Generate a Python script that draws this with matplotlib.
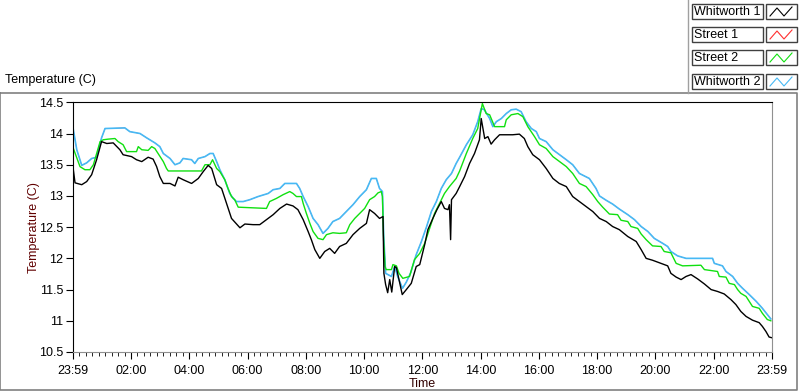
import numpy as np
import matplotlib.pyplot as plt
from matplotlib.patches import Rectangle
from matplotlib.lines import Line2D
from matplotlib.ticker import MultipleLocator, AutoMinorLocator

plt.rcParams['font.family'] = ['Liberation Sans', 'DejaVu Sans']

# (hours since 23:59, temperature C)
whitworth1 = [(0, 13.50), (0.08, 13.21), (0.31, 13.18), (0.48, 13.23), (0.65, 13.34), (0.82, 13.58),
              (0.99, 13.87), (1.17, 13.84), (1.39, 13.85), (1.62, 13.74), (1.73, 13.66), (2.02, 13.63),
              (2.19, 13.58), (2.37, 13.55), (2.59, 13.62), (2.76, 13.59), (2.88, 13.47), (2.99, 13.31),
              (3.11, 13.20), (3.34, 13.20), (3.51, 13.16), (3.62, 13.30), (3.79, 13.26), (4.08, 13.20),
              (4.31, 13.28), (4.48, 13.39), (4.65, 13.49), (4.77, 13.44), (4.94, 13.18), (5.11, 13.12),
              (5.28, 12.88), (5.45, 12.64), (5.74, 12.49), (5.91, 12.55), (6.19, 12.54), (6.42, 12.54),
              (6.65, 12.62), (6.88, 12.70), (7.11, 12.80), (7.34, 12.87), (7.56, 12.84), (7.73, 12.78),
              (7.91, 12.62), (8.08, 12.43), (8.19, 12.30), (8.31, 12.14), (8.48, 12.00), (8.65, 12.11),
              (8.82, 12.16), (8.99, 12.08), (9.16, 12.19), (9.39, 12.24), (9.62, 12.38), (9.85, 12.48),
              (10.08, 12.56), (10.19, 12.78), (10.36, 12.72), (10.53, 12.64), (10.65, 12.67), (10.68, 11.76),
              (10.74, 11.58), (10.81, 11.45), (10.88, 11.66), (10.95, 11.46), (11.05, 11.87), (11.11, 11.85),
              (11.22, 11.61), (11.31, 11.42), (11.45, 11.50), (11.62, 11.60), (11.79, 11.87), (11.91, 11.90),
              (12.08, 12.22), (12.19, 12.46), (12.36, 12.64), (12.50, 12.78), (12.65, 12.91), (12.76, 12.80),
              (12.88, 12.78), (12.93, 12.86), (12.97, 12.30), (13.00, 12.94), (13.16, 13.04), (13.28, 13.15),
              (13.45, 13.31), (13.62, 13.52), (13.79, 13.68), (13.96, 13.90), (14.02, 14.24), (14.14, 13.92),
              (14.25, 13.95), (14.36, 13.83), (14.48, 13.90), (14.65, 13.98), (14.88, 13.98), (15.10, 13.98),
              (15.33, 13.99), (15.50, 13.92), (15.62, 13.79), (15.79, 13.66), (16.02, 13.58), (16.25, 13.44),
              (16.48, 13.28), (16.70, 13.20), (16.94, 13.15), (17.16, 12.99), (17.39, 12.91), (17.62, 12.83),
              (17.85, 12.75), (18.08, 12.64), (18.31, 12.59), (18.53, 12.51), (18.76, 12.46), (19.05, 12.35),
              (19.34, 12.27), (19.51, 12.14), (19.68, 12.00), (19.90, 11.97), (20.13, 11.93), (20.42, 11.88),
              (20.53, 11.76), (20.71, 11.70), (20.88, 11.66), (21.05, 11.71), (21.22, 11.74), (21.45, 11.67),
              (21.68, 11.59), (21.91, 11.50), (22.13, 11.47), (22.36, 11.43), (22.59, 11.34), (22.76, 11.26),
              (22.93, 11.15), (23.11, 11.07), (23.33, 11.01), (23.56, 10.97), (23.67, 10.91), (23.79, 10.83),
              (23.90, 10.74), (23.98, 10.73)]

street2 = [(0, 13.79), (0.25, 13.47), (0.42, 13.42), (0.59, 13.42), (0.71, 13.50), (0.82, 13.68),
           (0.94, 13.87), (1.05, 13.90), (1.22, 13.91), (1.45, 13.92), (1.56, 13.87), (1.73, 13.82),
           (1.85, 13.71), (2.19, 13.71), (2.25, 13.79), (2.37, 13.74), (2.59, 13.73), (2.71, 13.79),
           (2.82, 13.76), (2.93, 13.68), (3.11, 13.55), (3.22, 13.44), (3.28, 13.40), (4.42, 13.40),
           (4.54, 13.50), (4.71, 13.50), (4.80, 13.58), (4.94, 13.44), (5.05, 13.39), (5.22, 13.26),
           (5.33, 13.12), (5.45, 12.99), (5.56, 12.94), (5.68, 12.82), (6.65, 12.80), (6.76, 12.91),
           (6.99, 12.96), (7.22, 13.02), (7.45, 13.07), (7.56, 13.04), (7.68, 12.99), (7.85, 12.99),
           (7.91, 12.88), (8.02, 12.72), (8.14, 12.56), (8.25, 12.43), (8.42, 12.32), (8.59, 12.30),
           (8.71, 12.38), (8.93, 12.41), (9.16, 12.40), (9.39, 12.41), (9.51, 12.54), (9.68, 12.64),
           (9.85, 12.72), (10.02, 12.80), (10.19, 12.94), (10.36, 12.99), (10.48, 13.05), (10.59, 13.07),
           (10.63, 12.99), (10.67, 12.30), (10.72, 11.87), (10.76, 11.82), (10.94, 11.82), (10.99, 11.90),
           (11.11, 11.88), (11.20, 11.76), (11.33, 11.68), (11.56, 11.71), (11.73, 11.98), (11.91, 12.08),
           (12.08, 12.24), (12.25, 12.48), (12.42, 12.72), (12.59, 12.88), (12.76, 13.04), (12.93, 13.15),
           (13.16, 13.28), (13.28, 13.40), (13.51, 13.68), (13.73, 13.92), (13.90, 14.08), (14.06, 14.48),
           (14.19, 14.32), (14.31, 14.30), (14.48, 14.11), (14.82, 14.11), (14.88, 14.22), (15.05, 14.30),
           (15.28, 14.32), (15.45, 14.27), (15.62, 14.11), (15.85, 13.95), (16.02, 13.82), (16.25, 13.76),
           (16.48, 13.63), (16.71, 13.55), (16.94, 13.47), (17.16, 13.36), (17.39, 13.20), (17.62, 13.15),
           (17.85, 13.02), (18.02, 12.91), (18.19, 12.82), (18.42, 12.71), (18.70, 12.70), (18.82, 12.61),
           (19.05, 12.59), (19.16, 12.51), (19.39, 12.48), (19.51, 12.39), (19.68, 12.30), (19.90, 12.20),
           (20.19, 12.19), (20.30, 12.11), (20.53, 12.09), (20.71, 11.92), (20.93, 11.88), (21.56, 11.89),
           (21.68, 11.82), (22.13, 11.79), (22.19, 11.71), (22.42, 11.70), (22.53, 11.60), (22.71, 11.58),
           (22.82, 11.50), (22.93, 11.44), (23.11, 11.39), (23.22, 11.31), (23.33, 11.23), (23.56, 11.20),
           (23.67, 11.12), (23.84, 11.02), (23.96, 11.00)]

whitworth2 = [(0, 14.12), (0.14, 13.74), (0.31, 13.49), (0.48, 13.53), (0.65, 13.60), (0.82, 13.62),
              (0.99, 13.93), (1.11, 14.08), (1.79, 14.09), (1.96, 14.03), (2.31, 14.00), (2.54, 13.93),
              (2.82, 13.85), (2.99, 13.79), (3.11, 13.68), (3.34, 13.60), (3.51, 13.50), (3.68, 13.53),
              (3.79, 13.60), (4.08, 13.58), (4.19, 13.52), (4.31, 13.60), (4.54, 13.63), (4.71, 13.68),
              (4.82, 13.68), (4.94, 13.55), (5.05, 13.42), (5.22, 13.26), (5.39, 13.04), (5.51, 12.96),
              (5.62, 12.91), (5.85, 12.91), (6.08, 12.94), (6.36, 12.99), (6.71, 13.04), (6.88, 13.10),
              (7.11, 13.12), (7.28, 13.20), (7.68, 13.20), (7.79, 13.12), (7.91, 12.99), (8.08, 12.83),
              (8.25, 12.64), (8.42, 12.54), (8.59, 12.40), (8.76, 12.48), (8.93, 12.59), (9.16, 12.64),
              (9.39, 12.75), (9.62, 12.86), (9.85, 12.99), (10.08, 13.10), (10.25, 13.28), (10.42, 13.28),
              (10.53, 13.12), (10.63, 13.07), (10.67, 12.40), (10.74, 11.76), (10.94, 11.71), (11.05, 11.87),
              (11.16, 11.70), (11.32, 11.52), (11.45, 11.62), (11.60, 11.77), (11.79, 12.06), (11.96, 12.26),
              (12.14, 12.50), (12.31, 12.75), (12.48, 12.91), (12.65, 13.12), (12.82, 13.26), (13.00, 13.36),
              (13.16, 13.52), (13.28, 13.62), (13.51, 13.82), (13.73, 13.98), (13.90, 14.19), (14.02, 14.40),
              (14.13, 14.38), (14.31, 14.24), (14.42, 14.11), (14.54, 14.19), (14.71, 14.24), (14.88, 14.32),
              (15.05, 14.38), (15.22, 14.39), (15.39, 14.35), (15.56, 14.19), (15.74, 14.08), (15.91, 14.03),
              (16.02, 13.92), (16.25, 13.87), (16.48, 13.74), (16.71, 13.66), (16.94, 13.58), (17.16, 13.50),
              (17.39, 13.36), (17.73, 13.28), (17.96, 13.12), (18.08, 13.00), (18.31, 12.93), (18.53, 12.87),
              (18.76, 12.79), (19.05, 12.70), (19.28, 12.62), (19.51, 12.51), (19.74, 12.43), (19.96, 12.32),
              (20.25, 12.24), (20.42, 12.19), (20.53, 12.11), (20.76, 12.04), (21.05, 12.00), (21.96, 12.00),
              (22.02, 11.92), (22.30, 11.88), (22.42, 11.79), (22.65, 11.71), (22.82, 11.60), (22.99, 11.52),
              (23.22, 11.42), (23.46, 11.31), (23.67, 11.20), (23.84, 11.10), (23.96, 11.03)]

# Street 1 sits underneath Whitworth 2 in the picture
street1 = whitworth2

names = ["Whitworth 1", "Street 1", "Street 2", "Whitworth 2"]
colors = ["black", "#ff3030", "#10e010", "#46b9f5"]
tick_hours = np.arange(0, 25, 2)
tick_labels = ["23:59"] + ["%02d:00" % h for h in range(2, 24, 2)] + ["23:59"]

W, H = 800, 392
fig = plt.figure(figsize=(8, 3.92), dpi=100)


def px(x, y):
    return x / W, 1 - y / H


ax = fig.add_axes([72.7 / W, 1 - 352 / H, (772 - 72.7) / W, (352 - 102.3) / H])

h, t = zip(*street1)
ax.plot(h, t, color=colors[1], lw=0.4)
h, t = zip(*whitworth2)
ax.plot(h, t, color=colors[3], lw=1.2)
h, t = zip(*street2)
ax.plot(h, t, color=colors[2], lw=1.0)
h, t = zip(*whitworth1)
ax.plot(h, t, color=colors[0], lw=1.0)

ax.set_xlim(0, 24)
ax.set_ylim(10.5, 14.5)
ax.set_xticks(tick_hours)
ax.set_xticklabels(tick_labels)
ax.xaxis.set_minor_locator(AutoMinorLocator(9))
ax.yaxis.set_major_locator(MultipleLocator(0.5))
ax.yaxis.set_major_formatter(plt.FuncFormatter(lambda v, p: "%g" % v))
ax.tick_params(axis="both", labelsize=9, colors="black", direction="out")
ax.tick_params(axis="x", which="major", length=5, pad=4)
ax.tick_params(axis="x", which="minor", length=3)
ax.tick_params(axis="y", length=5, pad=2)
for s in ["left", "top"]:
    ax.spines[s].set_color("black")
for s in ["right", "bottom"]:
    ax.spines[s].set_color("#909090")
ax.set_xlabel("Time", fontsize=9, color="#300000", labelpad=1)
ax.set_ylabel("Temperature (C)", fontsize=9, color="#600000", labelpad=-1)

# outer frame and caption
fig.add_artist(Line2D([0, 797 / W, 797 / W, 0, 0], [1 - 93 / H, 1 - 93 / H, 1 - 390 / H, 1 - 390 / H, 1 - 93 / H],
                      transform=fig.transFigure, color="#808080", lw=1.2))
fig.add_artist(Line2D([688 / W, 688 / W], [1, 1 - 93 / H], transform=fig.transFigure, color="#a0a0a0", lw=1))
fig.text(*px(5, 80), "Temperature (C)", fontsize=9, va="center", ha="left")

# legend panel
rows = [4, 27, 50, 74]
for name, c, y0 in zip(names, colors, rows):
    x0, y1 = px(692, y0 + 15)
    fig.add_artist(Rectangle((x0, y1), 71 / W, 15 / H, transform=fig.transFigure,
                             facecolor="white", edgecolor="#404040", lw=1))
    fig.text(*px(694, y0 + 8), name, fontsize=9, va="center", ha="left")
    sx, sy = px(766, y0 + 15)
    fig.add_artist(Rectangle((sx, sy), 31 / W, 15 / H, transform=fig.transFigure,
                             facecolor="white", edgecolor="#404040", lw=1))
    zx = [770, 777, 784, 792]
    zy = [y0 + 12, y0 + 4, y0 + 12, y0 + 3]
    fig.add_artist(Line2D([v / W for v in zx], [1 - v / H for v in zy], transform=fig.transFigure,
                          color=c, lw=0.8))

fig.savefig("out.png", dpi=100)
